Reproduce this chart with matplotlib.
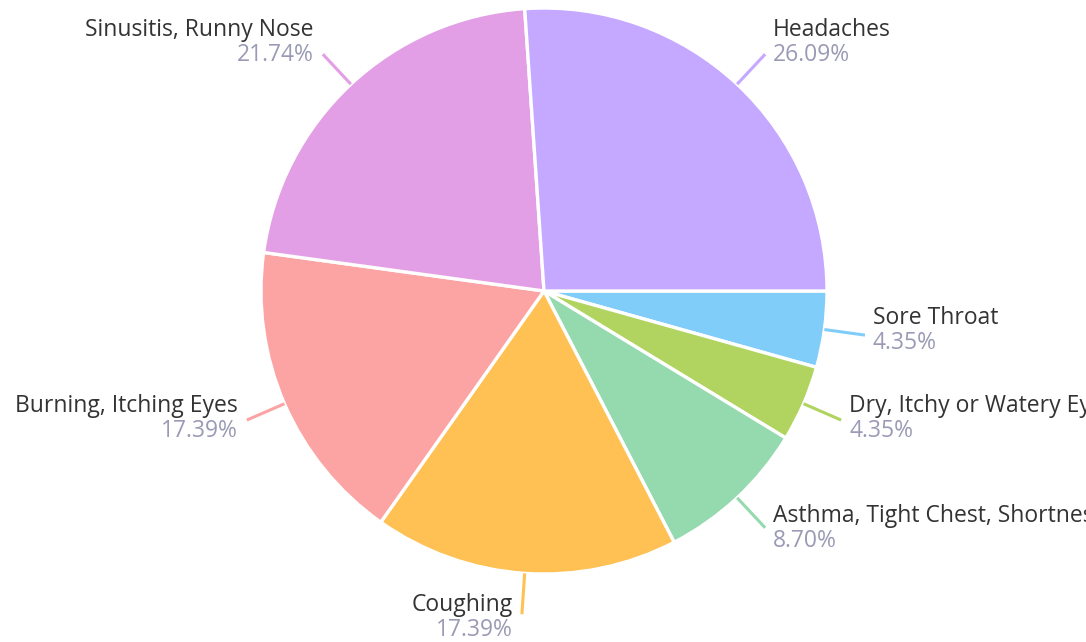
import numpy as np
import matplotlib.pyplot as plt

# symptom counts (percentages are count / total)
labels = ['Sore Throat', 'Dry, Itchy or Watery Eyes',
          'Asthma, Tight Chest, Shortness of Breath', 'Coughing',
          'Burning, Itching Eyes', 'Sinusitis, Runny Nose', 'Headaches']
counts = [1, 1, 2, 4, 4, 5, 6]
colors = ['#81CDFA', '#B0D45F', '#95D9AE', '#FFC153',
          '#FCA4A4', '#E39FE5', '#C5A8FF']

W, H = 1086, 642
fig = plt.figure(figsize=(W / 100, H / 100), dpi=100)
ax = fig.add_axes([0, 0, 1, 1])

cx, cy, r = 544, 351, 283
wedges, _ = ax.pie(counts, colors=colors, startangle=0, counterclock=False,
                   center=(cx, cy), radius=r,
                   wedgeprops=dict(edgecolor='white', linewidth=2.4))
ax.set_xlim(0, W)
ax.set_ylim(0, H)
ax.set_aspect('equal')
ax.axis('off')

total = sum(counts)
font = 'Open Sans'
for w, lab, n, col in zip(wedges, labels, counts, colors):
    mid = np.deg2rad((w.theta1 + w.theta2) / 2)
    c, s = np.cos(mid), np.sin(mid)
    x0, y0 = cx + r * c, cy + r * s
    x1, y1 = cx + (r + 41) * c, cy + (r + 41) * s
    ax.plot([x0, x1], [y0, y1], color=col, lw=2.2, solid_capstyle='butt')
    if c >= 0:
        tx, ha = x1 + 8, 'left'
    else:
        tx, ha = x1 - 9, 'right'
    ny = y1 + (30 + 9 * s) - 12
    ax.text(tx, ny, lab, ha=ha, va='center', fontsize=16.5,
            color='#333333', family=font)
    ax.text(tx, ny - 25, f'{100 * n / total:.2f}%', ha=ha, va='center',
            fontsize=16.5, color='#9A9AB5', family=font)

fig.savefig('out.png', dpi=100)
